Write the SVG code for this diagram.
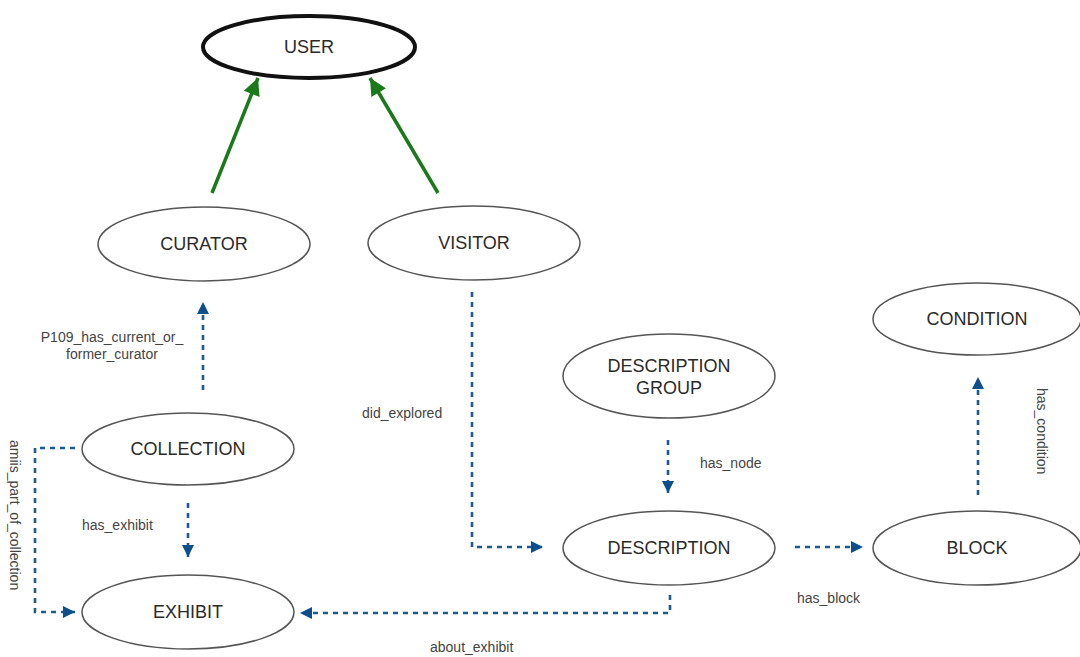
<svg xmlns="http://www.w3.org/2000/svg" width="1080" height="657" viewBox="0 0 1080 657">
<defs>
<marker id="ab" viewBox="0 0 10 10" refX="10" refY="5" markerWidth="12" markerHeight="12" markerUnits="userSpaceOnUse" orient="auto"><path d="M0,0 L10,5 L0,10 z" fill="#0d4f8b"/></marker>
<marker id="ag" viewBox="0 0 10 10" refX="10" refY="5" markerWidth="20" markerHeight="17" markerUnits="userSpaceOnUse" orient="auto"><path d="M0,0 L10,5 L0,10 z" fill="#1a7a1a"/></marker>
<style>
.n{fill:#fff;stroke:#555;stroke-width:1.5}
.t{font-family:"Liberation Sans",Arial,sans-serif;font-size:18px;fill:#2a2a2a;text-anchor:middle}
.l{font-family:"Liberation Sans",Arial,sans-serif;font-size:14px;fill:#444}
.d{fill:none;stroke:#1a5b92;stroke-width:2.6;stroke-dasharray:5 5}
.g{fill:none;stroke:#1a7a1a;stroke-width:3.5}
</style>
</defs>
<rect width="1080" height="657" fill="#fff"/>
<g id="connectors">
<line class="g" x1="212" y1="193" x2="258" y2="78" marker-end="url(#ag)"/>
<line class="g" x1="438" y1="193" x2="370" y2="78" marker-end="url(#ag)"/>
<line class="d" x1="203" y1="390" x2="203" y2="302" marker-end="url(#ab)"/>
<line class="d" x1="188" y1="503" x2="188" y2="557" marker-end="url(#ab)"/>
<path class="d" d="M75,448 H35 V612 H75" marker-end="url(#ab)"/>
<path class="d" d="M472,292 V547 H543" marker-end="url(#ab)"/>
<line class="d" x1="668" y1="440" x2="668" y2="493" marker-end="url(#ab)"/>
<path class="d" d="M670,595 V613 H300" marker-end="url(#ab)"/>
<line class="d" x1="795" y1="547" x2="863" y2="547" marker-end="url(#ab)"/>
<line class="d" x1="978" y1="495" x2="978" y2="377" marker-end="url(#ab)"/>
<text class="l" x="112" y="342" text-anchor="middle">P109_has_current_or_</text>
<text class="l" x="112" y="359" text-anchor="middle">former_curator</text>
<text class="l" x="82" y="530">has_exhibit</text>
<text class="l" x="0" y="0" transform="translate(10,440) rotate(90)">amiis_part_of_collection</text>
<text class="l" x="362" y="418">did_explored</text>
<text class="l" x="700" y="468">has_node</text>
<text class="l" x="430" y="652">about_exhibit</text>
<text class="l" x="797" y="603">has_block</text>
<text class="l" x="0" y="0" transform="translate(1037,388) rotate(90)">has_condition</text>
</g>
<g id="user"><ellipse cx="309" cy="47" rx="106" ry="31" fill="#fff" stroke="#111" stroke-width="4"/><text class="t" x="309" y="53">USER</text></g>
<g id="curator"><ellipse class="n" cx="204" cy="244" rx="106" ry="37"/><text class="t" x="204" y="250">CURATOR</text></g>
<g id="visitor"><ellipse class="n" cx="474" cy="243" rx="106" ry="37"/><text class="t" x="474" y="249">VISITOR</text></g>
<g id="collection"><ellipse class="n" cx="188" cy="449" rx="106" ry="36"/><text class="t" x="188" y="455">COLLECTION</text></g>
<g id="exhibit"><ellipse class="n" cx="188" cy="612" rx="106" ry="37"/><text class="t" x="188" y="618">EXHIBIT</text></g>
<g id="description-group"><ellipse class="n" cx="669" cy="376" rx="106" ry="42"/><text class="t" x="669" y="372">DESCRIPTION</text><text class="t" x="669" y="394">GROUP</text></g>
<g id="description"><ellipse class="n" cx="669" cy="548" rx="106" ry="37"/><text class="t" x="669" y="554">DESCRIPTION</text></g>
<g id="condition"><ellipse class="n" cx="977" cy="319" rx="104" ry="36"/><text class="t" x="977" y="325">CONDITION</text></g>
<g id="block"><ellipse class="n" cx="977" cy="548" rx="104" ry="37"/><text class="t" x="977" y="554">BLOCK</text></g>
</svg>
